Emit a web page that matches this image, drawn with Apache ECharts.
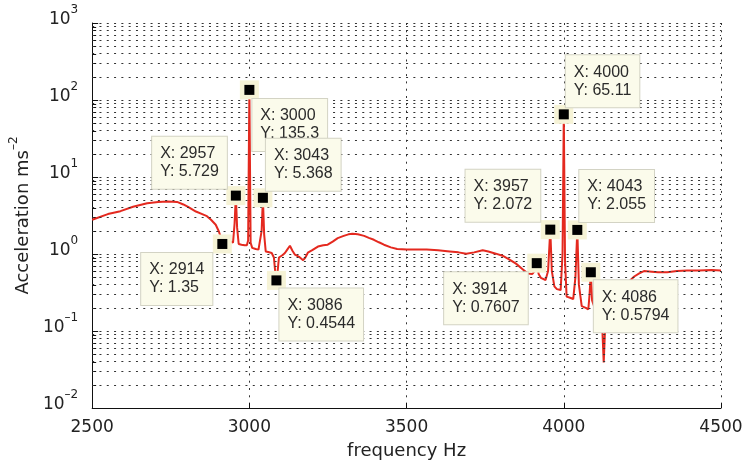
<!DOCTYPE html>
<html>
<head>
<meta charset="utf-8">
<script src="https://cdn.jsdelivr.net/npm/echarts@6/dist/echarts.min.js"></script>
<style>
  html, body { margin: 0; background: #fff; }
  #chart { width: 746px; height: 465px; }
</style>
</head>
<body>
<div id="chart"></div>
<script>
// spectrum trace (Hz, m/s^2)
const freq = [2500, 2550, 2590, 2630, 2675, 2710, 2740, 2770, 2790, 2805, 2830, 2850, 2865, 2878, 2893, 2903, 2910, 2914, 2920, 2930, 2940, 2948, 2953, 2957, 2961, 2966, 2975, 2985, 2992, 2996, 3000, 3004, 3009, 3020, 3029, 3035, 3039, 3043, 3047, 3052, 3060, 3071, 3078, 3082, 3086, 3090, 3094, 3098, 3106, 3113, 3121, 3129, 3137, 3145, 3158, 3171, 3178, 3186, 3200, 3218, 3235, 3249, 3265, 3281, 3300, 3315, 3328, 3345, 3365, 3380, 3396, 3412, 3428, 3450, 3470, 3501, 3530, 3564, 3600, 3637, 3665, 3690, 3715, 3742, 3760, 3784, 3805, 3826, 3848, 3868, 3885, 3900, 3907, 3914, 3920, 3927, 3942, 3950, 3957, 3962, 3970, 3978, 3990, 3996, 4000, 4004, 4009, 4020, 4030, 4037, 4043, 4048, 4057, 4070, 4078, 4082, 4086, 4090, 4104, 4115, 4122, 4127, 4131, 4135, 4150, 4170, 4195, 4210, 4224, 4240, 4255, 4280, 4300, 4329, 4360, 4392, 4430, 4470, 4500];
const accel = [2.78, 3.3, 3.6, 4.1, 4.55, 4.75, 4.8, 4.75, 4.4, 4.1, 3.56, 3.3, 3.1, 2.78, 2.4, 1.96, 1.6, 1.35, 1.5, 1.45, 1.46, 1.4, 2.5, 5.729, 2.2, 1.35, 1.32, 1.3, 1.3, 1.5, 135.3, 1.4, 1.2, 1.16, 1.14, 1.12, 2.0, 5.368, 1.8, 1.08, 1.06, 1.03, 0.9, 0.6, 0.4544, 0.6, 0.9, 0.95, 0.97, 1.03, 1.15, 1.28, 1.1, 0.98, 0.92, 0.83, 0.9, 1.04, 1.12, 1.25, 1.3, 1.32, 1.45, 1.61, 1.72, 1.8, 1.83, 1.8, 1.72, 1.62, 1.53, 1.42, 1.32, 1.22, 1.16, 1.14, 1.14, 1.14, 1.12, 1.08, 1.05, 1.01, 1.05, 1.12, 1.08, 1.01, 0.95, 0.85, 0.75, 0.64, 0.56, 0.55, 0.6, 0.7607, 0.55, 0.49, 0.46, 0.6, 2.072, 0.6, 0.38, 0.35, 0.34, 1.0, 65.11, 0.8, 0.28, 0.27, 0.26, 0.5, 2.055, 0.4, 0.21, 0.2, 0.19, 0.3, 0.5794, 0.25, 0.17, 0.17, 0.12, 0.039, 0.1, 0.19, 0.2, 0.25, 0.35, 0.45, 0.51, 0.56, 0.6, 0.59, 0.58, 0.58, 0.6, 0.61, 0.61, 0.62, 0.61];

// data tips
const tipFreq = [2914, 2957, 3000, 3043, 3086, 3914, 3957, 4000, 4043, 4086];
const tipAccel = [1.35, 5.729, 135.3, 5.368, 0.4544, 0.7607, 2.072, 65.11, 2.055, 0.5794];
// tip box placement relative to its marker: [dx, dy, side]; side 'r' -> dx is the box's right edge
const tipPlace = [[-5, 14, 'r'], [-4, -54, 'r'], [8, 14, 'l'], [8, -54, 'l'], [8, 13, 'l'], [-4, 14, 'r'], [-5, -55, 'r'], [7, -54, 'l'], [7, -55, 'l'], [8, 13, 'l']];

// minor grid values 2..9 per decade
const minorVals = [];
for (let e = -2; e <= 2; e++) {
  for (let m = 2; m <= 9; m++) minorVals.push(+(m * Math.pow(10, e)).toPrecision(3));
}

const axisFont = 'DejaVu Sans';
const tipFont = '16px "Liberation Sans"';
const tipPad = 8;
const dotted = { color: '#333', width: 1, type: [2, 5.3] };
const sup = ['–2', '–1', '0', '1', '2', '3'];

// width of a tip box, so left-hand boxes can end just before their marker
const measureCtx = document.createElement('canvas').getContext('2d');
measureCtx.font = tipFont;
function tipWidth(lines) {
  return Math.max(...lines.map(s => measureCtx.measureText(s).width)) + tipPad * 2;
}

let chartDom = document.getElementById('chart');
let myChart = echarts.init(chartDom);
let option;

option = {
  animation: false,
  backgroundColor: '#fff',
  grid: { left: 85, right: 25, top: 23, bottom: 56 },
  xAxis: {
    type: 'value',
    min: 2500,
    max: 4500,
    interval: 500,
    name: 'frequency Hz',
    nameLocation: 'middle',
    nameGap: 34,
    nameTextStyle: { fontFamily: axisFont, fontSize: 18, color: '#222' },
    axisLine: { lineStyle: { color: '#111', width: 1 } },
    axisTick: { inside: true, length: 5, lineStyle: { color: '#111' } },
    axisLabel: { fontFamily: axisFont, fontSize: 17, color: '#222', margin: 11, formatter: v => String(v) },
    splitLine: { show: true, lineStyle: dotted }
  },
  yAxis: {
    type: 'log',
    logBase: 10,
    min: 0.01,
    max: 1000,
    name: '{a|Acceleration ms}{s|–2}',
    nameLocation: 'middle',
    nameGap: 58,
    nameTextStyle: {
      fontFamily: axisFont, fontSize: 18, color: '#222',
      rich: {
        a: { fontFamily: axisFont, fontSize: 18, color: '#222', lineHeight: 18, verticalAlign: 'bottom' },
        s: { fontFamily: axisFont, fontSize: 12, color: '#222', lineHeight: 12, padding: [0, 0, 12, 0], verticalAlign: 'bottom' }
      }
    },
    axisLine: { show: true, lineStyle: { color: '#111', width: 1 } },
    axisTick: { inside: true, length: 6, lineStyle: { color: '#111' } },
    axisLabel: {
      margin: 14,
      padding: [0, 0, 7, 0],
      formatter: v => '{b|10}{e|' + sup[Math.round(Math.log10(v)) + 2] + '}',
      rich: {
        b: { fontFamily: axisFont, fontSize: 17, color: '#222', lineHeight: 17, verticalAlign: 'bottom' },
        e: { fontFamily: axisFont, fontSize: 12, color: '#222', lineHeight: 12, padding: [0, 0, 12, 0], verticalAlign: 'bottom' }
      }
    },
    splitLine: { show: true, lineStyle: dotted }
  },
  series: [
    {
      // minor ticks on the left axis
      type: 'custom',
      silent: true,
      z: 3,
      data: minorVals.map(v => [2500, v]),
      renderItem: (params, api) => {
        const p = api.coord([api.value(0), api.value(1)]);
        const y = Math.round(p[1]) + 0.5;
        return { type: 'line', shape: { x1: p[0], y1: y, x2: p[0] + 4, y2: y }, style: { stroke: '#111', lineWidth: 1 } };
      }
    },
    {
      name: 'spectrum',
      type: 'line',
      data: freq.map((f, i) => [f, accel[i]]),
      showSymbol: false,
      z: 4,
      lineStyle: { color: '#e4291f', width: 2 },
      markLine: {
        silent: true,
        symbol: ['none', 'none'],
        label: { show: false },
        lineStyle: dotted,
        data: minorVals.map(v => ({ yAxis: v }))
      }
    },
    {
      // cream halo behind the tip markers
      type: 'scatter',
      symbol: 'rect',
      symbolSize: 19,
      z: 5,
      silent: true,
      itemStyle: { color: '#f6f3d6', opacity: 1 },
      data: tipFreq.map((f, i) => [f, tipAccel[i]])
    },
    {
      type: 'scatter',
      symbol: 'rect',
      symbolSize: 10,
      z: 6,
      silent: true,
      itemStyle: { color: '#000', opacity: 1 },
      data: tipFreq.map((f, i) => {
        const lines = ['X: ' + f, 'Y: ' + tipAccel[i]];
        const p = tipPlace[i];
        const dx = p[2] === 'r' ? p[0] - tipWidth(lines) : p[0];
        return {
          value: [f, tipAccel[i]],
          label: {
            show: true,
            position: [dx, p[1]],
            align: 'left',
            verticalAlign: 'top',
            formatter: lines.join('\n'),
            fontFamily: 'Liberation Sans',
            fontSize: 16,
            lineHeight: 18,
            color: '#2b2b2b',
            backgroundColor: '#fbfbeb',
            borderColor: '#d3d3c4',
            borderWidth: 1,
            padding: [8, tipPad]
          }
        };
      })
    }
  ]
};

option && myChart.setOption(option);
</script>
</body>
</html>
